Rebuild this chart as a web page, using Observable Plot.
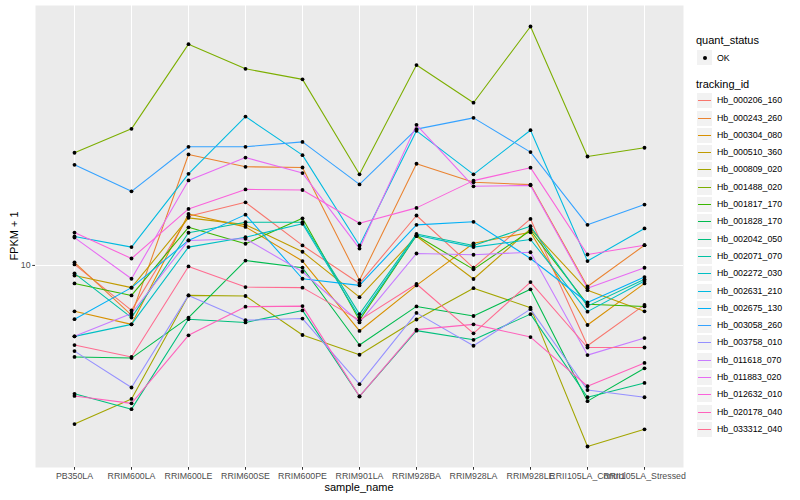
<!DOCTYPE html>
<html><head><meta charset="utf-8">
<script src="https://cdn.jsdelivr.net/npm/d3@7"></script>
<script src="https://cdn.jsdelivr.net/npm/@observablehq/plot@0.6"></script>
<style>
body{margin:0;background:#fff;font-family:"Liberation Sans",Arial,sans-serif;}
#wrap{position:relative;width:800px;height:500px;overflow:hidden;}
.abs{position:absolute;white-space:nowrap;line-height:1;}
</style></head><body><div id="wrap"></div>
<script>
const samples = ["PB350LA","RRIM600LA","RRIM600LE","RRIM600SE","RRIM600PE","RRIM901LA","RRIM928BA","RRIM928LA","RRIM928LE","RRII105LA_Control","RRII105LA_Stressed"];
const trackingIds = ["Hb_000206_160","Hb_000243_260","Hb_000304_080","Hb_000510_360","Hb_000809_020","Hb_001488_020","Hb_001817_170","Hb_001828_170","Hb_002042_050","Hb_002071_070","Hb_002272_030","Hb_002631_210","Hb_002675_130","Hb_003058_260","Hb_003758_010","Hb_011618_070","Hb_011883_020","Hb_012632_010","Hb_020178_040","Hb_033312_040"];
const colors = ["#F8766D","#EA8331","#D89000","#C09B00","#A3A500","#7CAE00","#39B600","#00BB4E","#00BF7D","#00C1A3","#00BFC4","#00BAE0","#00B0F6","#35A2FF","#9590FF","#C77CFF","#E76BF3","#FA62DB","#FF62BC","#FF6C91"];
const yTicks = [10];

// FPKM + 1 per sample, in the order of `samples`
const Hb_000206_160 = [10.04, 8.41, 12.08, 12.75, 10.80, 9.33, 12.12, 9.91, 11.96, 7.34, 8.59];
const Hb_000243_260 = [10.12, 8.26, 15.33, 14.62, 14.58, 9.45, 14.79, 13.77, 13.65, 9.22, 10.81];
const Hb_000304_080 = [8.38, 7.97, 12.19, 11.60, 10.17, 7.77, 9.26, 10.89, 11.36, 7.95, 9.33];
const Hb_000510_360 = [9.62, 9.18, 12.01, 11.70, 10.54, 8.85, 11.19, 9.49, 11.51, 9.09, 8.38];
const Hb_000809_020 = [5.43, 5.98, 8.91, 8.89, 7.65, 7.09, 8.12, 9.16, 8.50, 4.98, 5.32];
const Hb_001488_020 = [15.43, 16.92, 23.44, 21.32, 20.47, 14.20, 21.63, 18.71, 25.09, 15.21, 15.73];
const Hb_001817_170 = [9.33, 8.91, 11.58, 10.87, 11.99, 8.10, 11.22, 9.85, 11.44, 8.61, 8.54];
const Hb_001828_170 = [7.03, 7.00, 8.18, 10.19, 9.91, 7.36, 8.54, 8.23, 9.12, 5.93, 6.73];
const Hb_002042_050 = [6.10, 5.75, 8.13, 8.03, 8.41, 6.04, 7.78, 7.51, 8.29, 6.02, 6.36];
const Hb_002071_070 = [9.70, 8.18, 11.34, 11.81, 11.81, 8.29, 11.29, 10.80, 11.63, 8.55, 9.48];
const Hb_002272_030 = [7.61, 7.97, 10.73, 11.15, 11.74, 8.18, 11.23, 10.73, 11.05, 8.37, 9.42];
const Hb_002631_210 = [11.18, 10.73, 14.23, 17.74, 15.29, 10.80, 16.79, 14.20, 16.83, 10.17, 11.53];
const Hb_002675_130 = [8.13, 9.18, 11.01, 12.16, 9.50, 9.26, 11.69, 11.83, 10.27, 8.67, 9.56];
const Hb_003058_260 = [14.73, 13.30, 15.79, 15.79, 16.09, 13.66, 16.90, 17.65, 15.47, 11.69, 12.64];
const Hb_003758_010 = [7.19, 6.25, 8.91, 8.10, 8.15, 6.33, 8.33, 7.34, 8.45, 6.19, 6.02];
const Hb_011618_070 = [7.61, 8.31, 11.01, 11.08, 9.76, 8.03, 10.47, 10.42, 10.52, 7.08, 7.56];
const Hb_011883_020 = [11.13, 9.50, 13.87, 15.15, 14.27, 10.67, 17.18, 13.56, 13.61, 9.16, 9.91];
const Hb_012632_010 = [11.35, 10.27, 12.43, 13.40, 13.37, 11.76, 12.48, 13.86, 14.57, 10.43, 10.81];
const Hb_020178_040 = [6.05, 5.88, 7.64, 8.53, 8.55, 6.04, 7.81, 7.97, 7.59, 6.28, 6.87];
const Hb_033312_040 = [7.36, 7.03, 9.96, 9.20, 9.18, 8.10, 9.31, 7.70, 9.38, 7.29, 7.29];

const seriesValues = [Hb_000206_160, Hb_000243_260, Hb_000304_080, Hb_000510_360, Hb_000809_020, Hb_001488_020, Hb_001817_170, Hb_001828_170, Hb_002042_050, Hb_002071_070, Hb_002272_030, Hb_002631_210, Hb_002675_130, Hb_003058_260, Hb_003758_010, Hb_011618_070, Hb_011883_020, Hb_012632_010, Hb_020178_040, Hb_033312_040];

const data = trackingIds.flatMap((id, k) => seriesValues[k].map((v, i) => ({id, sample: samples[i], v, quant_status: "OK"})));

const ext = d3.extent(data, d => d.v);
const l0 = Math.log10(ext[0]), l1 = Math.log10(ext[1]);
const pad = (l1 - l0) * 0.05;

const FONT = '"Liberation Sans", Arial, sans-serif';
const chart = Plot.plot({
  width: 800, height: 500,
  marginLeft: 35, marginRight: 117, marginTop: 5, marginBottom: 33,
  style: {fontFamily: FONT, fontSize: "8.8px", background: "white", color: "#4D4D4D"},
  x: {type: "point", domain: samples, padding: 0.6, label: null},
  y: {type: "log", domain: [10 ** (l0 - pad), 10 ** (l1 + pad)], label: null},
  color: {domain: trackingIds, range: colors},
  marks: [
    Plot.frame({fill: "#EBEBEB", stroke: "none"}),
    Plot.gridX({stroke: "white", strokeOpacity: 1, strokeWidth: 1.07}),
    Plot.gridY(yTicks, {stroke: "white", strokeOpacity: 1, strokeWidth: 1.07}),
    Plot.line(data, {x: "sample", y: "v", z: "id", stroke: "id", strokeWidth: 1.07}),
    Plot.dot(data, {x: "sample", y: "v", fill: "black", r: 1.9}),
    Plot.axisX({tickSize: 2.75, tickPadding: 2.4, label: null, stroke: "#333333", color: "#4D4D4D"}),
    Plot.axisY(yTicks, {tickSize: 2.75, tickPadding: 2.2, label: null, tickFormat: d => String(d), stroke: "#333333", color: "#4D4D4D"})
  ]
});
const wrap = document.getElementById("wrap");
wrap.appendChild(chart);

function addText(txt, left, top, size, extra) {
  const d = document.createElement("div");
  d.className = "abs";
  d.textContent = txt;
  d.style.left = left + "px";
  d.style.top = top + "px";
  d.style.fontSize = size + "px";
  d.style.color = "#000";
  if (extra) Object.assign(d.style, extra);
  wrap.appendChild(d);
  return d;
}
// axis titles
addText("sample_name", 359, 482, 11, {transform: "translateX(-50%)"});
addText("FPKM + 1", 14, 236, 11, {transform: "translate(-50%,-50%) rotate(-90deg)"});

// legend
const LX = 696, KEY = 17.3;
addText("quant_status", LX, 35, 11);
const k0 = document.createElement("div");
k0.className = "abs";
Object.assign(k0.style, {left: LX + "px", top: "49px", width: "17px", height: "17px", background: "#F2F2F2", boxSizing: "border-box", border: "1px solid white"});
const dot = document.createElement("div");
Object.assign(dot.style, {position: "absolute", left: "6px", top: "6px", width: "4px", height: "4px", borderRadius: "50%", background: "black"});
k0.appendChild(dot);
wrap.appendChild(k0);
addText("OK", LX + 21, 53.5, 8.8);

addText("tracking_id", LX, 79, 11);
trackingIds.forEach((id, i) => {
  const cy = 100.7 + i * KEY;
  const top = Math.round(cy - 8.5);
  const box = document.createElement("div");
  box.className = "abs";
  Object.assign(box.style, {left: LX + "px", top: top + "px", width: "17px", height: "17px", background: "#F2F2F2", boxSizing: "border-box", border: "1px solid white"});
  const ln = document.createElement("div");
  Object.assign(ln.style, {position: "absolute", left: "1px", right: "1px", top: "7px", height: "1px", background: colors[i]});
  box.appendChild(ln);
  wrap.appendChild(box);
  addText(id, LX + 21, top + 4, 8.8);
});
</script>
</body></html>
